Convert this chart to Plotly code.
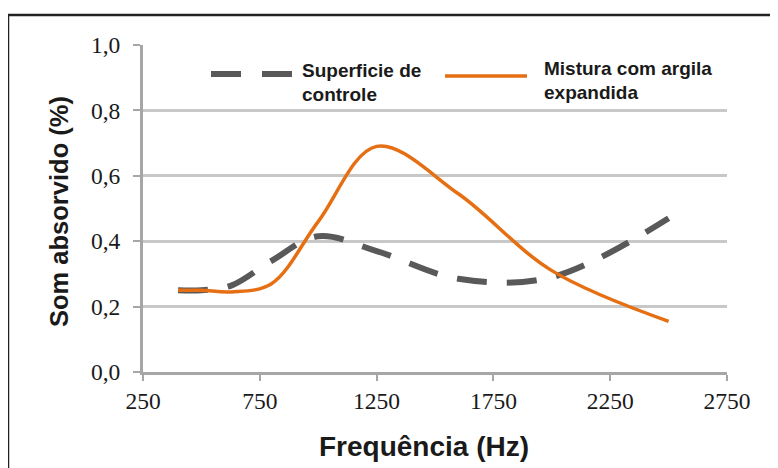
import plotly.graph_objects as go

# Data (third-octave band centre frequencies)
freq = [400, 500, 630, 800, 1000, 1250, 1600, 2000, 2500]
controle = [0.25, 0.25, 0.265, 0.34, 0.415, 0.37, 0.285, 0.29, 0.47]
argila = [0.25, 0.25, 0.245, 0.27, 0.46, 0.69, 0.545, 0.31, 0.155]

series_names = ["Superficie de controle", "Mistura com argila expandida"]
x_ticks = [250, 750, 1250, 1750, 2250, 2750]
y_ticks = [0.0, 0.2, 0.4, 0.6, 0.8, 1.0]
y_ticktext = ["0,0", "0,2", "0,4", "0,6", "0,8", "1,0"]
x_title = "Frequência (Hz)"
y_title = "Som absorvido (%)"

GRAY = "#595959"
ORANGE = "#E56F12"
AXIS = "#A6A6A6"
GRID = "#C8C8C8"
TXT = "#1a1a1a"

OFF = 8  # page body margin
W, H = 778 - OFF, 468 - OFF
L, R, T, B = 143 - OFF, 51, 45 - OFF, 96
PW, PH = W - L - R, H - T - B


def px(xp):
    return (xp - OFF - L) / PW


def py(yp):
    return (H - B - (yp - OFF)) / PH


fig = go.Figure()
fig.add_trace(go.Scatter(x=freq, y=controle, mode="lines", name=series_names[0],
                         line=dict(color=GRAY, width=6, dash="30px,20px", shape="spline", smoothing=1.0)))
fig.add_trace(go.Scatter(x=freq, y=argila, mode="lines", name=series_names[1],
                         line=dict(color=ORANGE, width=3.5, shape="spline", smoothing=1.0)))

shapes = []
# outer frame (top and left edges visible)
shapes.append(dict(type="line", xref="paper", yref="paper", x0=px(8), x1=px(800), y0=py(15), y1=py(15),
                   line=dict(color="#222222", width=2.5)))
shapes.append(dict(type="line", xref="paper", yref="paper", x0=px(8), x1=px(8), y0=py(15), y1=py(500),
                   line=dict(color="#222222", width=2.5)))
# legend samples
shapes.append(dict(type="line", xref="paper", yref="paper", x0=px(211), x1=px(292), y0=py(74), y1=py(74),
                   line=dict(color=GRAY, width=6, dash="30px,21px")))
shapes.append(dict(type="line", xref="paper", yref="paper", x0=px(445), x1=px(527), y0=py(76), y1=py(76),
                   line=dict(color=ORANGE, width=3.5)))

annotations = []
leg_font = dict(family="Liberation Sans, Arial", size=19, color=TXT)
for text, x, y in [("<b>Superficie de</b>", 300, 70), ("<b>controle</b>", 300, 94),
                   ("<b>Mistura com argila</b>", 542, 68), ("<b>expandida</b>", 542, 92)]:
    annotations.append(dict(text=text, xref="paper", yref="paper", x=px(x), y=py(y),
                            xanchor="left", yanchor="middle", showarrow=False, font=leg_font))
# axis titles
annotations.append(dict(text="<b>" + x_title + "</b>", xref="paper", yref="paper", x=px(424), y=py(446),
                        xanchor="center", yanchor="middle", showarrow=False,
                        font=dict(family="Liberation Sans, Arial", size=28, color=TXT)))
annotations.append(dict(text="<b>" + y_title + "</b>", xref="paper", yref="paper", x=px(59), y=py(212),
                        xanchor="center", yanchor="middle", showarrow=False, textangle=-90,
                        font=dict(family="Liberation Sans, Arial", size=25.5, color=TXT)))

fig.update_layout(
    width=W, height=H,
    margin=dict(l=L, r=R, t=T, b=B),
    paper_bgcolor="white", plot_bgcolor="white",
    showlegend=False,
    shapes=shapes,
    annotations=annotations,
    xaxis=dict(
        range=[250, 2750], tickvals=x_ticks, ticktext=[str(v) for v in x_ticks],
        showgrid=False, zeroline=False,
        showline=True, linecolor=AXIS, linewidth=3,
        ticks="outside", ticklen=6, tickwidth=2, tickcolor=AXIS,
        tickfont=dict(family="Liberation Serif, Times New Roman", size=23.5, color=TXT),
        automargin=False,
    ),
    yaxis=dict(
        range=[0, 1.0], tickvals=y_ticks, ticktext=y_ticktext,
        showgrid=True, gridcolor=GRID, gridwidth=2.5, zeroline=False,
        showline=True, linecolor=AXIS, linewidth=3,
        ticks="outside", ticklen=7, tickwidth=2, tickcolor=AXIS,
        ticklabelstandoff=8,
        tickfont=dict(family="Liberation Serif, Times New Roman", size=23.5, color=TXT),
        automargin=False,
    ),
)

fig.write_html("out.html")
